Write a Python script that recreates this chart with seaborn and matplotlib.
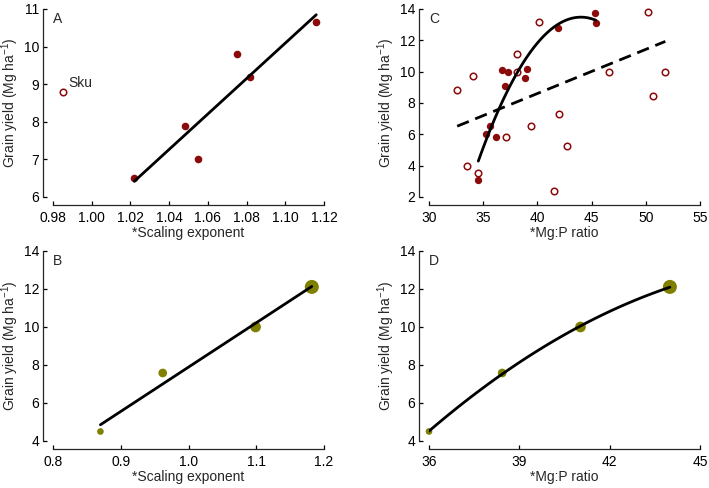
import pandas as pd
import matplotlib
matplotlib.use("Agg")
import matplotlib.pyplot as plt
import seaborn as sns
from matplotlib.ticker import FormatStrFormatter, MultipleLocator

# panel A: scaling exponent vs yield (Sku shown apart, not in the fit)
a_exp = [1.022, 1.048, 1.055, 1.075, 1.082, 1.116]
a_yield = [6.5, 7.89, 7.0, 9.8, 9.2, 10.65]
sku_exp = [0.985]
sku_yield = [8.8]

# panels B and D: group means
grp_exp = [0.87, 0.962, 1.099, 1.182]
grp_mgp = [36.0, 38.43, 41.03, 44.0]
grp_yield = [4.5, 7.58, 10.0, 12.11]
grp_area = [23, 39, 59, 102]

# panel C: Mg:P ratio vs yield
c_fill_mgp = [34.55, 35.25, 35.65, 36.2, 36.75, 37.0, 37.25, 38.9, 39.05, 41.9, 45.35, 45.4]
c_fill_yield = [3.1, 6.05, 6.55, 5.8, 10.1, 9.1, 9.95, 9.6, 10.15, 12.8, 13.75, 13.1]
c_open_mgp = [32.6, 33.5, 34.1, 34.5, 37.1, 38.1, 38.1, 39.4, 40.15, 41.5, 42.0, 42.75,
              46.6, 50.2, 50.65, 51.8]
c_open_yield = [8.8, 4.0, 9.75, 3.55, 5.85, 11.1, 9.95, 6.55, 13.15, 2.4, 7.3, 5.25,
                9.95, 13.8, 8.45, 10.0]

RED = "#8b0a0a"
OLIVE = "#808000"
YLAB = "Grain yield (Mg ha$^{-1}$)"

sns.set_style("ticks")
plt.rcParams["font.family"] = ["Liberation Sans", "DejaVu Sans"]
plt.rcParams["mathtext.fontset"] = "custom"
plt.rcParams["mathtext.rm"] = "Liberation Sans"
plt.rcParams["font.size"] = 10

W, H = 709, 488
fig = plt.figure(figsize=(W / 100, H / 100), dpi=100)


def make_ax(x0, x1, y0, y1):
    return fig.add_axes([x0 / W, 1 - y1 / H, (x1 - x0) / W, (y1 - y0) / H])


axA = make_ax(53, 324, 9, 197)
axC = make_ax(429, 700, 9, 197)
axB = make_ax(53, 324, 251, 441)
axD = make_ax(429, 700, 251, 441)

line_kws = dict(color="black", lw=2.0, zorder=5)

# A
sns.scatterplot(x=a_exp, y=a_yield, ax=axA, color=RED, s=30, linewidth=0, clip_on=False)
sns.scatterplot(x=sku_exp, y=sku_yield, ax=axA, color="white", edgecolor=RED, s=22,
                linewidth=1.1, clip_on=False)
sns.regplot(x=a_exp, y=a_yield, ax=axA, scatter=False, ci=None, line_kws=line_kws)
axA.annotate("Sku", (sku_exp[0], sku_yield[0]), xytext=(4, 1), textcoords="offset points",
             ha="left", va="bottom", fontsize=10)
axA.set_xlim(0.98, 1.12)
axA.set_ylim(6, 11)
axA.xaxis.set_major_locator(MultipleLocator(0.02))
axA.xaxis.set_major_formatter(FormatStrFormatter("%.2f"))
axA.yaxis.set_major_locator(MultipleLocator(1))
axA.set_xlabel("*Scaling exponent")

# B
sns.scatterplot(x=grp_exp, y=grp_yield, ax=axB, color=OLIVE, s=grp_area, linewidth=0,
                clip_on=False)
sns.regplot(x=grp_exp, y=grp_yield, ax=axB, scatter=False, ci=None, line_kws=line_kws)
axB.set_xlim(0.8, 1.2)
axB.set_ylim(4, 14)
axB.xaxis.set_major_locator(MultipleLocator(0.1))
axB.xaxis.set_major_formatter(FormatStrFormatter("%.1f"))
axB.yaxis.set_major_locator(MultipleLocator(2))
axB.set_xlabel("*Scaling exponent")

# C
c_all = pd.DataFrame({"mgp": c_fill_mgp + c_open_mgp, "yld": c_fill_yield + c_open_yield})
sns.scatterplot(x=c_open_mgp, y=c_open_yield, ax=axC, color="white", edgecolor=RED, s=22,
                linewidth=1.1, clip_on=False)
sns.scatterplot(x=c_fill_mgp, y=c_fill_yield, ax=axC, color=RED, s=28, linewidth=0,
                clip_on=False)
sns.regplot(data=c_all, x="mgp", y="yld", ax=axC, scatter=False, ci=None,
            line_kws=dict(color="black", lw=2.0, ls=(0, (4.5, 2.5)), zorder=5))
sns.regplot(x=c_fill_mgp, y=c_fill_yield, ax=axC, scatter=False, ci=None, order=2,
            line_kws=line_kws)
axC.set_xlim(30, 55)
axC.set_ylim(2, 14)
axC.xaxis.set_major_locator(MultipleLocator(5))
axC.yaxis.set_major_locator(MultipleLocator(2))
axC.set_xlabel("*Mg:P ratio")

# D
sns.scatterplot(x=grp_mgp, y=grp_yield, ax=axD, color=OLIVE, s=grp_area, linewidth=0,
                clip_on=False)
sns.regplot(x=grp_mgp, y=grp_yield, ax=axD, scatter=False, ci=None, order=2,
            line_kws=line_kws)
axD.set_xlim(36, 45)
axD.set_ylim(4, 14)
axD.xaxis.set_major_locator(MultipleLocator(3))
axD.yaxis.set_major_locator(MultipleLocator(2))
axD.set_xlabel("*Mg:P ratio")

for ax, letter in [(axA, "A"), (axB, "B"), (axC, "C"), (axD, "D")]:
    ax.set_ylabel(YLAB, labelpad=2)
    ax.xaxis.labelpad = 1
    ax.text(0.0, 0.985, letter, transform=ax.transAxes, ha="left", va="top", fontsize=10)
    ax.tick_params(direction="in", length=3, width=0.9, labelsize=10, colors="black")
    ax.tick_params(axis="x", pad=4)
    ax.tick_params(axis="y", pad=3)
    for sp in ("left", "bottom"):
        ax.spines[sp].set_linewidth(0.9)
    sns.despine(ax=ax, offset={"left": 7, "bottom": 6})

fig.savefig("out.png", dpi=100)
